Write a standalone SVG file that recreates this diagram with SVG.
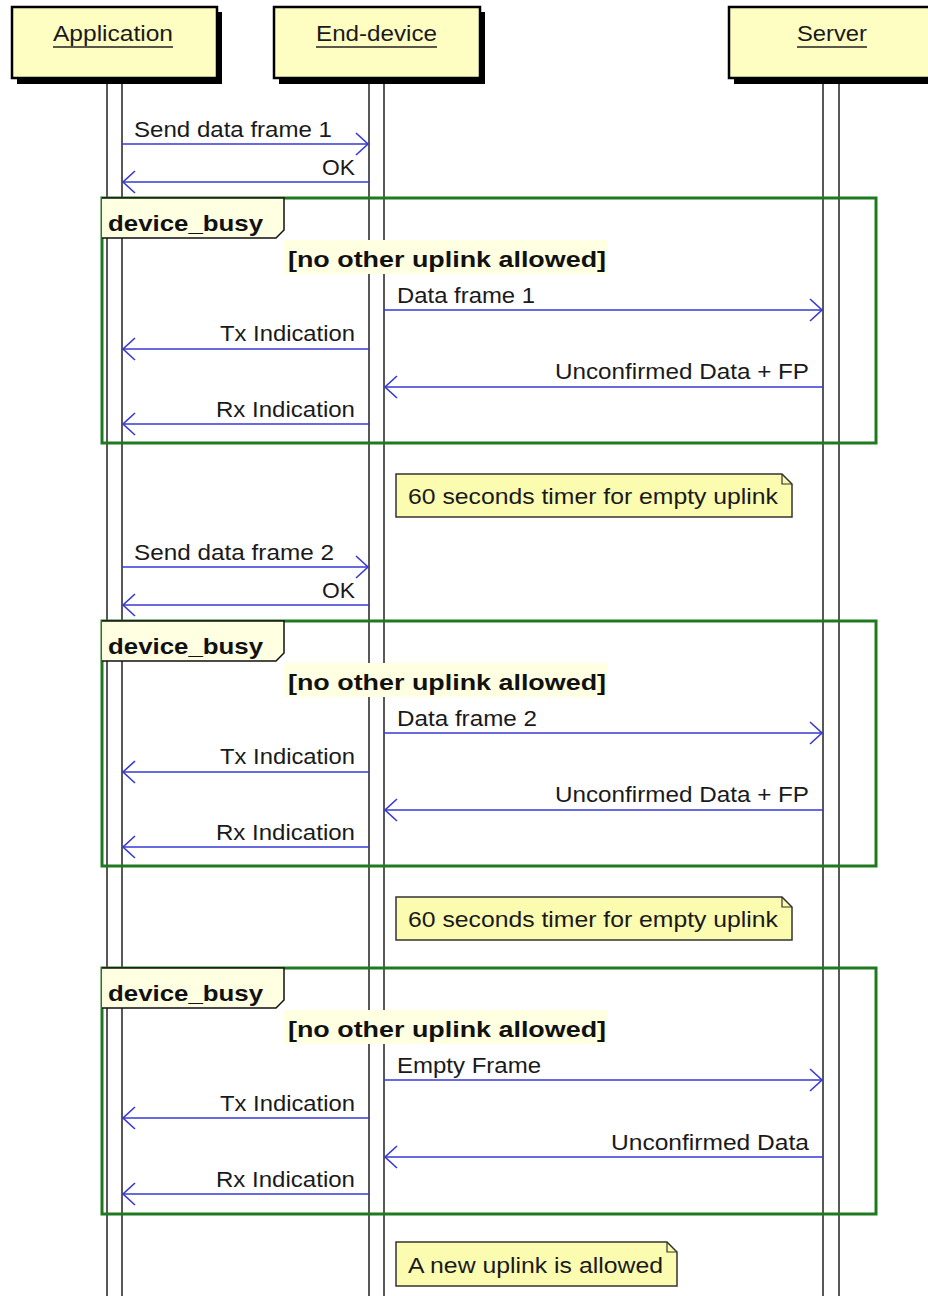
<svg xmlns="http://www.w3.org/2000/svg" width="928" height="1296" viewBox="0 0 928 1296">
  <style>
    text { font-family: "Liberation Sans", Arial, sans-serif; fill: #1a1a1a; }
    .lbl { font-size: 22px; }
    .title { font-size: 22px; }
    .bold { font-size: 22px; font-weight: bold; fill: #111; }
    .box { fill: #FEFEC2; stroke: #000; stroke-width: 2.5; }
    .shadow { fill: #000; }
    .uline { stroke: #222; stroke-width: 1.6; }
    .life { fill: #fff; stroke: #222; stroke-width: 1.5; }
    .msg { stroke: #3737D6; stroke-width: 1.6; fill: none; marker-end: url(#open); }
    .frame { fill: none; stroke: #1E7A1E; stroke-width: 3; }
    .tab { fill: #FFFFE2; stroke: #111; stroke-width: 1.5; }
    .guard { fill: #FFFFE2; }
    .note { fill: #FCFCB0; stroke: #333; stroke-width: 1.5; }
  </style>
  <defs>
    <marker id="open" markerUnits="userSpaceOnUse" viewBox="-14 -13 16 26" refX="0" refY="0" markerWidth="16" markerHeight="26" orient="auto">
      <path d="M-12,-11 L0,0 L-12,11" fill="none" stroke="#3737D6" stroke-width="1.6"/>
    </marker>
  </defs>

  <rect width="928" height="1296" fill="#fff"/>

  <!-- lifelines -->
  <g id="lifelines">
    <rect class="life" x="107" y="80" width="15" height="1230"/>
    <rect class="life" x="369" y="80" width="15" height="1230"/>
    <rect class="life" x="823" y="80" width="16" height="1230"/>
  </g>

  <!-- participants -->
  <g id="application">
    <rect class="shadow" x="17" y="12" width="205" height="72"/>
    <rect class="box" x="12" y="7" width="205" height="71"/>
    <text class="title" x="53" y="41" textLength="120" lengthAdjust="spacingAndGlyphs">Application</text>
    <line class="uline" x1="53" y1="47" x2="173" y2="47"/>
  </g>
  <g id="end-device">
    <rect class="shadow" x="279" y="12" width="206" height="72"/>
    <rect class="box" x="274" y="7" width="206" height="71"/>
    <text class="title" x="316" y="41" textLength="121" lengthAdjust="spacingAndGlyphs">End-device</text>
    <line class="uline" x1="316" y1="47" x2="437" y2="47"/>
  </g>
  <g id="server">
    <rect class="shadow" x="734" y="12" width="206" height="72"/>
    <rect class="box" x="729" y="7" width="206" height="71"/>
    <text class="title" x="797" y="41" textLength="70" lengthAdjust="spacingAndGlyphs">Server</text>
    <line class="uline" x1="797" y1="47" x2="867" y2="47"/>
  </g>

  <!-- combined fragments -->
  <g id="frame-1">
    <rect class="frame" x="102" y="198" width="774" height="245"/>
    <path class="tab" d="M102,198 H284 V230 L276,238 H102"/>
    <rect class="guard" x="284" y="240" width="324" height="34"/>
    <text class="bold" x="108" y="231" textLength="155" lengthAdjust="spacingAndGlyphs">device_busy</text>
    <text class="bold" x="288" y="267" textLength="318" lengthAdjust="spacingAndGlyphs">[no other uplink allowed]</text>
  </g>
  <g id="frame-2">
    <rect class="frame" x="102" y="621" width="774" height="245"/>
    <path class="tab" d="M102,621 H284 V653 L276,661 H102"/>
    <rect class="guard" x="284" y="663" width="324" height="34"/>
    <text class="bold" x="108" y="654" textLength="155" lengthAdjust="spacingAndGlyphs">device_busy</text>
    <text class="bold" x="288" y="690" textLength="318" lengthAdjust="spacingAndGlyphs">[no other uplink allowed]</text>
  </g>
  <g id="frame-3">
    <rect class="frame" x="102" y="968" width="774" height="246"/>
    <path class="tab" d="M102,968 H284 V1000 L276,1008 H102"/>
    <rect class="guard" x="284" y="1010" width="324" height="34"/>
    <text class="bold" x="108" y="1001" textLength="155" lengthAdjust="spacingAndGlyphs">device_busy</text>
    <text class="bold" x="288" y="1037" textLength="318" lengthAdjust="spacingAndGlyphs">[no other uplink allowed]</text>
  </g>

  <!-- messages -->
  <g id="connectors">
    <line class="msg" x1="122" y1="144" x2="368" y2="144"/>
    <line class="msg" x1="369" y1="182" x2="123" y2="182"/>
    <line class="msg" x1="384" y1="310" x2="822" y2="310"/>
    <line class="msg" x1="369" y1="349" x2="123" y2="349"/>
    <line class="msg" x1="823" y1="387" x2="385" y2="387"/>
    <line class="msg" x1="369" y1="424" x2="123" y2="424"/>

    <line class="msg" x1="122" y1="567" x2="368" y2="567"/>
    <line class="msg" x1="369" y1="605" x2="123" y2="605"/>
    <line class="msg" x1="384" y1="733" x2="822" y2="733"/>
    <line class="msg" x1="369" y1="772" x2="123" y2="772"/>
    <line class="msg" x1="823" y1="810" x2="385" y2="810"/>
    <line class="msg" x1="369" y1="847" x2="123" y2="847"/>

    <line class="msg" x1="384" y1="1080" x2="822" y2="1080"/>
    <line class="msg" x1="369" y1="1118" x2="123" y2="1118"/>
    <line class="msg" x1="823" y1="1157" x2="385" y2="1157"/>
    <line class="msg" x1="369" y1="1194" x2="123" y2="1194"/>
  </g>

  <g id="message-labels">
    <text class="lbl" x="134" y="137" textLength="198" lengthAdjust="spacingAndGlyphs">Send data frame 1</text>
    <text class="lbl" x="322" y="175" textLength="33" lengthAdjust="spacingAndGlyphs">OK</text>
    <text class="lbl" x="397" y="303" textLength="138" lengthAdjust="spacingAndGlyphs">Data frame 1</text>
    <text class="lbl" x="220" y="341" textLength="135" lengthAdjust="spacingAndGlyphs">Tx Indication</text>
    <text class="lbl" x="555" y="379" textLength="254" lengthAdjust="spacingAndGlyphs">Unconfirmed Data + FP</text>
    <text class="lbl" x="216" y="417" textLength="139" lengthAdjust="spacingAndGlyphs">Rx Indication</text>

    <text class="lbl" x="134" y="560" textLength="200" lengthAdjust="spacingAndGlyphs">Send data frame 2</text>
    <text class="lbl" x="322" y="598" textLength="33" lengthAdjust="spacingAndGlyphs">OK</text>
    <text class="lbl" x="397" y="726" textLength="140" lengthAdjust="spacingAndGlyphs">Data frame 2</text>
    <text class="lbl" x="220" y="764" textLength="135" lengthAdjust="spacingAndGlyphs">Tx Indication</text>
    <text class="lbl" x="555" y="802" textLength="254" lengthAdjust="spacingAndGlyphs">Unconfirmed Data + FP</text>
    <text class="lbl" x="216" y="840" textLength="139" lengthAdjust="spacingAndGlyphs">Rx Indication</text>

    <text class="lbl" x="397" y="1073" textLength="144" lengthAdjust="spacingAndGlyphs">Empty Frame</text>
    <text class="lbl" x="220" y="1111" textLength="135" lengthAdjust="spacingAndGlyphs">Tx Indication</text>
    <text class="lbl" x="611" y="1150" textLength="198" lengthAdjust="spacingAndGlyphs">Unconfirmed Data</text>
    <text class="lbl" x="216" y="1187" textLength="139" lengthAdjust="spacingAndGlyphs">Rx Indication</text>
  </g>

  <!-- notes -->
  <g id="note-1">
    <path class="note" d="M396,474 H782 L792,484 V517 H396 Z"/>
    <path d="M782,474 V484 H792" fill="none" stroke="#333" stroke-width="1.2"/>
    <text class="lbl" x="408" y="504" textLength="370" lengthAdjust="spacingAndGlyphs">60 seconds timer for empty uplink</text>
  </g>
  <g id="note-2">
    <path class="note" d="M396,897 H782 L792,907 V940 H396 Z"/>
    <path d="M782,897 V907 H792" fill="none" stroke="#333" stroke-width="1.2"/>
    <text class="lbl" x="408" y="927" textLength="370" lengthAdjust="spacingAndGlyphs">60 seconds timer for empty uplink</text>
  </g>
  <g id="note-3">
    <path class="note" d="M396,1242 H667 L677,1252 V1286 H396 Z"/>
    <path d="M667,1242 V1252 H677" fill="none" stroke="#333" stroke-width="1.2"/>
    <text class="lbl" x="408" y="1273" textLength="255" lengthAdjust="spacingAndGlyphs">A new uplink is allowed</text>
  </g>
</svg>
